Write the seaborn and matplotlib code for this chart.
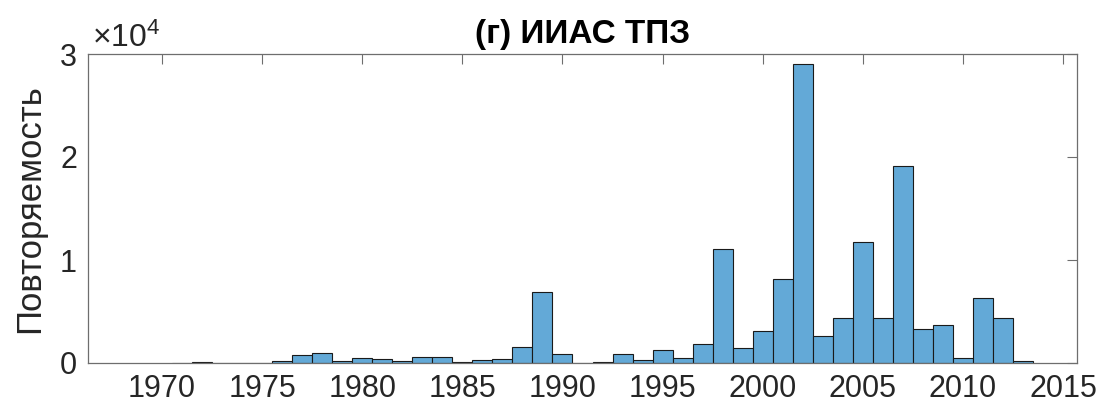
import matplotlib
matplotlib.use("Agg")
import matplotlib.pyplot as plt
import seaborn as sns
import numpy as np
import pandas as pd
from matplotlib.ticker import FuncFormatter

years = [1971, 1972, 1973, 1974, 1975, 1976, 1977, 1978, 1979, 1980,
         1981, 1982, 1983, 1984, 1985, 1986, 1987, 1988, 1989, 1990,
         1991, 1992, 1993, 1994, 1995, 1996, 1997, 1998, 1999, 2000,
         2001, 2002, 2003, 2004, 2005, 2006, 2007, 2008, 2009, 2010,
         2011, 2012, 2013]
counts = [30, 90, 20, 20, 30, 230, 820, 1010, 200, 490,
          390, 170, 620, 620, 80, 270, 390, 1510, 6890, 840,
          20, 60, 870, 320, 1250, 450, 1870, 11070, 1420, 3150,
          8150, 29070, 2590, 4370, 11750, 4370, 19100, 3340, 3730, 520,
          6280, 4410, 200]
title = "(г) ИИАС ТПЗ"
ylabel = "Повторяемость"
xticks = [1970, 1975, 1980, 1985, 1990, 1995, 2000, 2005, 2010, 2015]
yticks = [0, 10000, 20000, 30000]

sns.set_theme(style="white")
plt.rcParams['font.family'] = ['Liberation Sans', 'DejaVu Sans']
plt.rcParams['mathtext.fontset'] = 'custom'
plt.rcParams['mathtext.rm'] = 'Liberation Sans'
plt.rcParams['mathtext.it'] = 'Liberation Sans'

df = pd.DataFrame({"year": years, "count": counts})

fig = plt.figure(figsize=(11.07, 4.12), dpi=100)
ax = fig.add_axes([88/1107, 49/412, (1077-88)/1107, (363-54)/412])

sns.histplot(data=df, x="year", weights="count", discrete=True, ax=ax,
             color="#63A9D7", alpha=1.0, edgecolor="#1a1a1a", linewidth=0.8)

ax.set_xlim(1966.3, 2015.7)
ax.set_ylim(0, 30000)
ax.set_xticks(xticks)
ax.set_yticks(yticks)
ax.yaxis.set_major_formatter(FuncFormatter(lambda v, p: f"{v/1e4:g}"))
ax.set_xlabel("")
ax.set_ylabel(ylabel, fontsize=25, color="#262626", labelpad=10)
ax.set_title(title, fontsize=24, fontweight="bold", color="#000000", pad=8)

ax.tick_params(axis="both", direction="in", length=7, width=0.8,
               labelsize=22, colors="#6e6e6e", labelcolor="#262626",
               top=True, right=True, pad=8)
for s in ax.spines.values():
    s.set_visible(True)
    s.set_color("#6e6e6e")
    s.set_linewidth(0.9)

ax.text(0.004, 1.0, r"$\times10^{4}$", transform=ax.transAxes,
        fontsize=23, color="#262626", ha="left", va="bottom")

fig.savefig("out.png", dpi=100)
